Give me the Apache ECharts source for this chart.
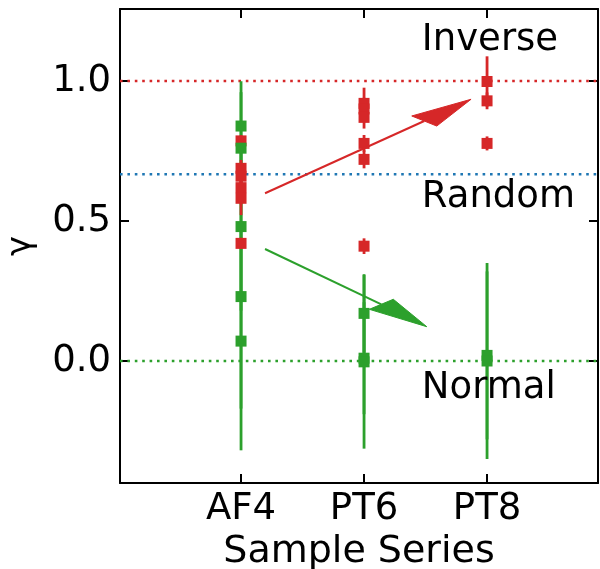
<!DOCTYPE html>
<html><head><meta charset="utf-8">
<script src="https://cdn.jsdelivr.net/npm/echarts@6/dist/echarts.min.js"></script>
<style>html,body{margin:0;padding:0;background:#fff}#c{width:600px;height:569px}</style>
</head><body><div id="c"></div>
<script>
// ---- data ----
const categories = ['AF4', 'PT6', 'PT8'];          // plotted at x = 1, 2, 3
const yTickValues = [0, 0.5, 1.0];
const yTickLabels = ['0.0', '0.5', '1.0'];

// Inverse (red) measurements: category position, gamma, error
const redX   = [1, 1, 1, 1, 1, 1,   2, 2, 2, 2, 2, 2,   3, 3, 3];
const redY   = [0.786, 0.688, 0.660, 0.619, 0.581, 0.420,   0.920, 0.900, 0.870, 0.777, 0.720, 0.410,   0.998, 0.929, 0.777];
const redErr = [0.020, 0.030, 0.030, 0.030, 0.060, 0.020,   0.056, 0.040, 0.040, 0.030, 0.032, 0.028,   0.090, 0.030, 0.025];

// Normal (green) measurements
const greenX   = [1, 1, 1, 1, 1,   2, 2, 2,   3, 3];
const greenY   = [0.839, 0.760, 0.480, 0.230, 0.071,   0.170, 0.010, -0.003,   0.020, 0.000];
const greenErr = [0.160, 0.200, 0.300, 0.400, 0.390,   0.140, 0.200, 0.310,   0.300, 0.350];

// reference levels
const refLevels = [1.0, 2 / 3, 0.0];
const refNames  = ['Inverse', 'Random', 'Normal'];
const refTextX  = [2.47, 2.47, 2.47];
const refTextY  = [1.144, 0.585, -0.097];

// trend arrows: start, head corner A, head corner B, tip (data units)
const arrowStartX = [1.195, 1.195];
const arrowStartY = [0.599, 0.400];
const arrowAX     = [2.388, 2.238];
const arrowAY     = [0.875, 0.2204];
const arrowBX     = [2.591, 2.043];
const arrowBY     = [0.839, 0.1846];
const arrowTipX   = [2.870, 2.510];
const arrowTipY   = [0.9346, 0.1225];

// ---- styling ----
const RED = '#d62728', GREEN = '#2ca02c', BLUE = '#1f77b4';
const refColors = [RED, BLUE, GREEN];
const arrowColors = [RED, GREEN];
const FONT = 'DejaVu Sans';
const FS_TICK = 37, FS_NAME = 38, FS_TEXT = 37;
const xMin = 0.016, xMax = 3.902;
const yMin = -0.4357, yMax = 1.257;

const chart = echarts.init(document.getElementById('c'), null, {renderer: 'canvas'});

function errSeries(xs, ys, es, color, z) {
  return {
    type: 'custom', z: z, silent: true, animation: false, clip: false,
    data: xs.map((x, i) => [x, ys[i], es[i]]),
    encode: {x: 0, y: 1},
    renderItem: function (params, api) {
      const x = api.value(0), y = api.value(1), e = api.value(2);
      const p1 = api.coord([x, y - e]), p2 = api.coord([x, y + e]);
      return {type: 'line', shape: {x1: p1[0], y1: p1[1], x2: p2[0], y2: p2[1]},
              style: {stroke: color, lineWidth: 2.8}};
    }
  };
}
function ptSeries(xs, ys, color, z) {
  return {
    type: 'scatter', z: z, silent: true, animation: false,
    symbol: 'rect', symbolSize: 11,
    itemStyle: {color: color, opacity: 1},
    data: xs.map((x, i) => [x, ys[i]])
  };
}

const axisCommon = {
  axisLine: {show: true, onZero: false, lineStyle: {color: '#000', width: 2}},
  splitLine: {show: false}
};

const option = {
  animation: false,
  backgroundColor: '#fff',
  grid: {left: 120, right: 2, top: 9, bottom: 86, containLabel: false, outerBoundsMode: 'none'},
  xAxis: [
    Object.assign({
      type: 'value', position: 'bottom', min: xMin, max: xMax,
      axisTick: {show: true, inside: true, length: 9, lineStyle: {color: '#000', width: 2}, customValues: [1, 2, 3]},
      axisLabel: {show: true, customValues: [1, 2, 3], margin: 8, color: '#000', fontSize: FS_TICK, fontFamily: FONT,
                  formatter: v => categories[Math.round(v) - 1] || ''},
      name: 'Sample Series', nameLocation: 'middle', nameGap: 48,
      nameTextStyle: {color: '#000', fontSize: FS_NAME, fontFamily: FONT}
    }, axisCommon),
    Object.assign({
      type: 'value', position: 'top', min: xMin, max: xMax,
      axisTick: {show: true, inside: true, length: 9, lineStyle: {color: '#000', width: 2}, customValues: [1, 2, 3]},
      axisLabel: {show: false}
    }, axisCommon)
  ],
  yAxis: [
    Object.assign({
      type: 'value', position: 'left', min: yMin, max: yMax,
      axisTick: {show: true, inside: true, length: 9, lineStyle: {color: '#000', width: 2}, customValues: yTickValues},
      axisLabel: {show: true, customValues: yTickValues, margin: 9, color: '#000', fontSize: FS_TICK, fontFamily: FONT,
                  formatter: v => yTickLabels[yTickValues.findIndex(t => Math.abs(t - v) < 1e-6)] || ''},
      name: 'γ', nameLocation: 'middle', nameGap: 82, nameRotate: 90,
      nameTextStyle: {color: '#000', fontSize: 34, fontFamily: FONT}
    }, axisCommon),
    Object.assign({
      type: 'value', position: 'right', min: yMin, max: yMax,
      axisTick: {show: true, inside: true, length: 9, lineStyle: {color: '#000', width: 2}, customValues: yTickValues},
      axisLabel: {show: false}
    }, axisCommon)
  ],
  series: [
    {
      type: 'custom', z: 1, silent: true, animation: false, clip: false,
      data: refLevels.map(v => [xMin, v]),
      encode: {x: 0, y: 1},
      renderItem: function (params, api) {
        const y = api.value(1);
        const p1 = api.coord([xMin, y]), p2 = api.coord([xMax, y]);
        return {type: 'line', shape: {x1: p1[0], y1: p1[1], x2: p2[0], y2: p2[1]},
                style: {stroke: refColors[params.dataIndex], lineWidth: 2.5, lineDash: [2.6, 4.8], lineCap: 'butt'}};
      }
    },
    errSeries(greenX, greenY, greenErr, GREEN, 2),
    errSeries(redX, redY, redErr, RED, 3),
    ptSeries(redX, redY, RED, 4),
    ptSeries(greenX, greenY, GREEN, 5),
    {
      type: 'custom', z: 6, silent: true, animation: false, clip: false,
      data: arrowStartX.map((x, i) => [x, arrowStartY[i], arrowAX[i], arrowAY[i], arrowBX[i], arrowBY[i], arrowTipX[i], arrowTipY[i]]),
      encode: {x: [0, 2, 4, 6], y: [1, 3, 5, 7]},
      renderItem: function (params, api) {
        const s = api.coord([api.value(0), api.value(1)]);
        const a = api.coord([api.value(2), api.value(3)]);
        const b = api.coord([api.value(4), api.value(5)]);
        const t = api.coord([api.value(6), api.value(7)]);
        const m = [(a[0] + b[0]) / 2, (a[1] + b[1]) / 2];
        const c = arrowColors[params.dataIndex];
        return {type: 'group', children: [
          {type: 'line', shape: {x1: s[0], y1: s[1], x2: m[0], y2: m[1]}, style: {stroke: c, lineWidth: 2}},
          {type: 'polygon', shape: {points: [a, t, b]}, style: {fill: c, stroke: c, lineWidth: 1}}
        ]};
      }
    },
    {
      type: 'custom', z: 7, silent: true, animation: false, clip: false,
      data: refTextX.map((x, i) => [x, refTextY[i]]),
      encode: {x: 0, y: 1},
      renderItem: function (params, api) {
        const p = api.coord([api.value(0), api.value(1)]);
        return {type: 'text', x: p[0], y: p[1],
                style: {text: refNames[params.dataIndex], fill: '#000', fontSize: FS_TEXT, fontFamily: FONT,
                        align: 'left', verticalAlign: 'middle'}};
      }
    }
  ]
};
chart.setOption(option);
</script>
</body></html>
